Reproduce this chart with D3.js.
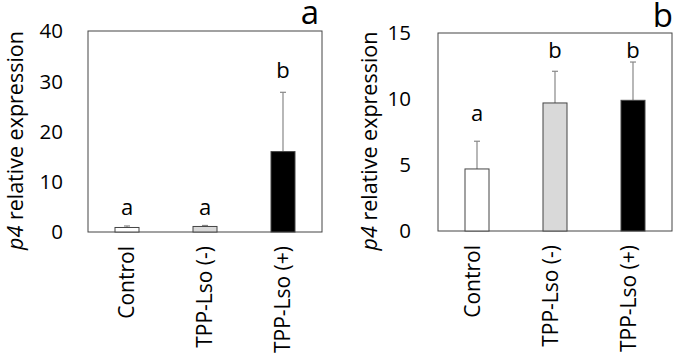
<!DOCTYPE html>
<html>
<head>
<meta charset="utf-8">
<script src="https://cdn.jsdelivr.net/npm/d3@7"></script>
<style>
  body { margin: 0; background: #fff; }
  text { font-family: "Open Sans", Lato, sans-serif; fill: #000; }
</style>
</head>
<body>
<script>
var categories = ["Control", "TPP-Lso (-)", "TPP-Lso (+)"];
var fills = ["#ffffff", "#d9d9d9", "#000000"];

var meansA = [0.9, 1.1, 16.0];
var errA = [0.3, 0.2, 11.8];
var lettersA = ["a", "a", "b"];
// height of each letter (in axis units)
var letterPosA = [3.4, 3.4, 30.6];
var ticksA = [0, 10, 20, 30, 40];

var meansB = [4.7, 9.7, 9.9];
var errB = [2.1, 2.4, 2.9];
var lettersB = ["a", "b", "b"];
var letterPosB = [8.3, 13.1, 13.1];
var ticksB = [0, 5, 10, 15];

var width = 673;
var height = 356;

var svg = d3.select("body").append("svg")
    .attr("width", width)
    .attr("height", height);

function drawPanel(opts){
    var g = svg.append("g");
    var x = d3.scaleBand()
        .domain(categories)
        .range([opts.left, opts.right]);
    var y = d3.scaleLinear()
        .domain([0, opts.max])
        .range([opts.bottom, opts.top]);
    var barW = 24;
    var mid = function(d){ return x(d) + x.bandwidth()/2; };

    // plot frame
    g.append("rect")
        .attr("x", opts.left)
        .attr("y", opts.top)
        .attr("width", opts.right - opts.left)
        .attr("height", opts.bottom - opts.top)
        .style("fill", "none")
        .style("stroke", "#444")
        .style("stroke-width", 1);

    // y tick labels
    g.selectAll("text.tick")
            .data(opts.ticks)
        .enter().append("text")
            .attr("x", opts.left - opts.tickGap)
            .attr("y", function(d){ return y(d); })
            .attr("dy", "0.36em")
            .style("text-anchor", "end")
            .style("font-size", "20.5px")
            .text(function(d){ return d; });

    // error bars (upper only)
    var err = g.selectAll("g.err")
            .data(categories)
        .enter().append("g");
    err.append("line")
        .attr("x1", mid)
        .attr("x2", mid)
        .attr("y1", function(d, i){ return y(opts.means[i]); })
        .attr("y2", function(d, i){ return y(opts.means[i] + opts.errs[i]); })
        .style("stroke", "#888")
        .style("stroke-width", 1.2);
    err.append("line")
        .attr("x1", function(d){ return mid(d) - 3; })
        .attr("x2", function(d){ return mid(d) + 3; })
        .attr("y1", function(d, i){ return y(opts.means[i] + opts.errs[i]); })
        .attr("y2", function(d, i){ return y(opts.means[i] + opts.errs[i]); })
        .style("stroke", "#888")
        .style("stroke-width", 1.2);

    g.selectAll("rect.bar")
            .data(categories)
        .enter().append("rect")
            .attr("x", function(d){ return x(d) + (x.bandwidth() - barW)/2; })
            .attr("y", function(d, i){ return y(opts.means[i]); })
            .attr("width", barW)
            .attr("height", function(d, i){ return opts.bottom - y(opts.means[i]); })
            .style("fill", function(d, i){ return fills[i]; })
            .style("stroke", "#444")
            .style("stroke-width", 1);

    // significance letters
    g.selectAll("text.letter")
            .data(categories)
        .enter().append("text")
            .attr("x", mid)
            .attr("y", function(d, i){ return y(opts.letterPos[i]); })
            .style("text-anchor", "middle")
            .style("font-size", "22px")
            .text(function(d, i){ return opts.letters[i]; });

    // category labels, rotated
    g.selectAll("text.cat")
            .data(categories)
        .enter().append("text")
            .attr("transform", function(d){
                return "translate(" + (mid(d) + opts.catShift) + "," + (opts.bottom + 14) + ") rotate(-90)";
            })
            .style("text-anchor", "end")
            .style("font-size", "21px")
            .text(function(d){ return d; });

    // y axis title
    var title = g.append("text")
        .attr("transform", "translate(" + (opts.left - opts.titleGap) + "," + ((opts.top + opts.bottom)/2 + 9) + ") rotate(-90)")
        .style("text-anchor", "middle")
        .style("font-size", "21.5px");
    title.append("tspan").style("font-style", "italic").text("p4");
    title.append("tspan").text(" relative expression");

    // panel label
    g.append("text")
        .attr("x", opts.right + opts.labelDx)
        .attr("y", opts.labelY)
        .style("text-anchor", "end")
        .style("font-size", "33px")
        .text(opts.label);
}

drawPanel({ left: 88, right: 322, top: 31, bottom: 232, max: 40,
    ticks: ticksA, means: meansA, errs: errA, letters: lettersA, letterPos: letterPosA,
    label: "a", labelDx: -3, labelY: 24, tickGap: 25, titleGap: 65, catShift: 7 });
drawPanel({ left: 438, right: 672, top: 33, bottom: 231, max: 15,
    ticks: ticksB, means: meansB, errs: errB, letters: lettersB, letterPos: letterPosB,
    label: "b", labelDx: 1, labelY: 27, tickGap: 27, titleGap: 61, catShift: 3 });
</script>
</body>
</html>
